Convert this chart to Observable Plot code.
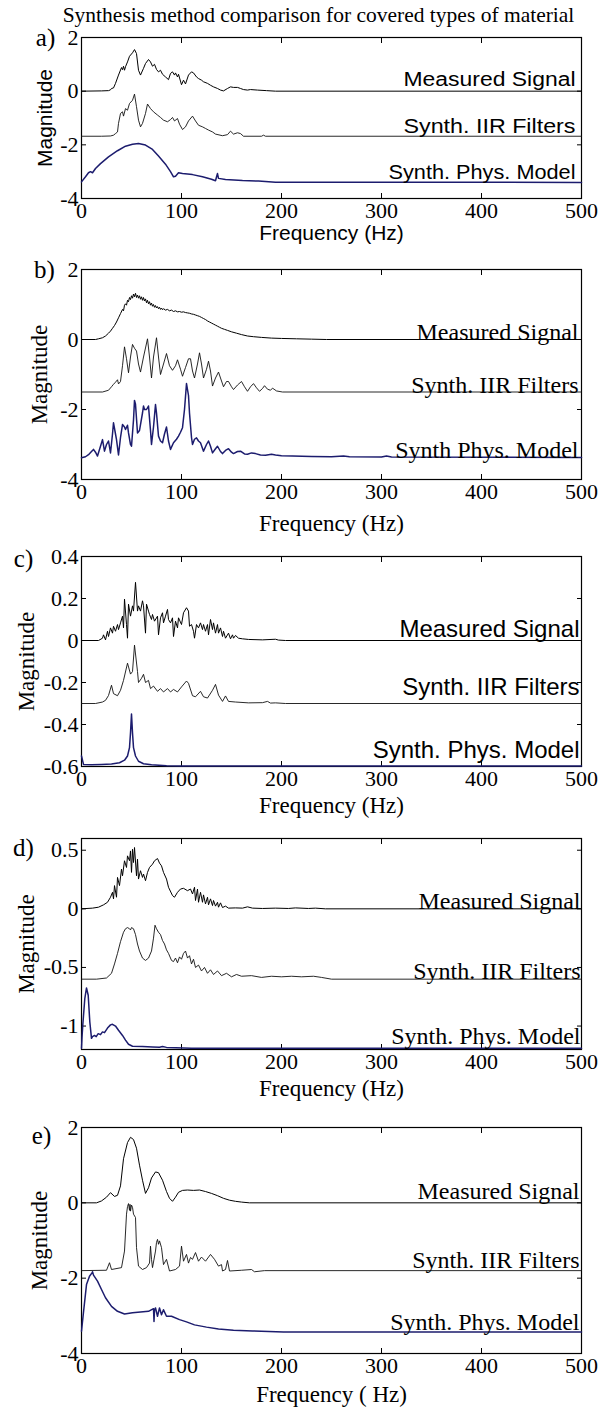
<!DOCTYPE html>
<html><head><meta charset="utf-8">
<script src="https://cdn.jsdelivr.net/npm/d3@7"></script>
<script src="https://cdn.jsdelivr.net/npm/@observablehq/plot@0.6"></script>
<style>
body{margin:0;background:#fff;}
#wrap{position:relative;width:611px;height:1407px;overflow:hidden;background:#fff;}
#wrap svg{position:absolute;left:0;}
</style></head><body><div id="wrap"></div>
<script>
const TITLE = "Synthesis method comparison for covered types of material";
const xTickLabels = [0, 100, 200, 300, 400, 500];
const xInnerTicks = [100, 200, 300, 400];
const labelsStd = ["Measured Signal", "Synth. IIR Filters", "Synth. Phys. Model"];
const labelsB = ["Measured Signal", "Synth. IIR Filters", "Synth Phys. Model"];

// ---- panel a ----
const aMeasured = [[0,0],[20,0.01],[27,0.02],[29,0.05],[30,0.1],[32,0.12],[34,0.29],[37,0.6],[40,0.88],[41,0.8],[42,0.93],[43,0.78],[44,0.91],[46,1.09],[48,1.3],[51,1.43],[53,1.55],[55,1.4],[57,0.78],[59,0.6],[62,0.85],[64,1.03],[67,1.18],[69,1.09],[71,0.93],[73,1.0],[75,0.81],[77,0.72],[79,0.78],[81,0.63],[84,0.53],[87,0.43],[89,0.66],[91,0.72],[93,0.6],[94,0.68],[96,0.53],[97,0.63],[100,0.24],[102,0.41],[104,0.27],[107,0.6],[110,0.72],[112,0.68],[115,0.53],[117,0.47],[120,0.41],[122,0.35],[126,0.29],[129,0.22],[132,0.16],[136,0.1],[139,0.04],[142,0.01],[146,0.1],[149,0.16],[152,0.14],[156,0.14],[159,0.1],[162,0.06],[166,0.04],[169,0.06],[176,0.04],[185,0.02],[194,0],[500,0]];
const aIIR = [[0,-1.68],[20,-1.68],[29,-1.67],[32,-1.64],[34,-1.58],[36,-1.52],[37,-1.2],[39,-0.83],[41,-0.77],[42,-0.93],[44,-0.65],[46,-0.71],[48,-0.46],[51,-0.34],[53,-0.11],[55,-0.58],[57,-1.08],[59,-1.33],[61,-1.2],[64,-0.83],[66,-0.48],[69,-0.65],[72,-0.77],[76,-0.89],[79,-0.98],[82,-1.08],[86,-1.14],[89,-1.06],[91,-0.98],[93,-1.11],[96,-1.02],[98,-1.23],[101,-1.43],[104,-1.33],[107,-1.11],[111,-0.93],[114,-1.11],[117,-1.27],[121,-1.33],[124,-1.39],[127,-1.45],[131,-1.52],[134,-1.6],[141,-1.66],[146,-1.62],[149,-1.49],[152,-1.6],[156,-1.55],[159,-1.58],[162,-1.68],[180,-1.68],[182,-1.64],[184,-1.68],[500,-1.68]];
const aPhys = [[0,-3.38],[4,-3.19],[7,-3.04],[9,-3.0],[11,-3.04],[14,-2.88],[19,-2.7],[27,-2.45],[36,-2.22],[44,-2.05],[51,-1.98],[57,-1.95],[64,-2.01],[71,-2.17],[77,-2.42],[84,-2.72],[89,-3.0],[92,-3.19],[94,-3.17],[97,-3.04],[101,-3.07],[111,-3.11],[121,-3.19],[130,-3.28],[134,-3.34],[135,-3.2],[136,-3.07],[137,-3.25],[144,-3.29],[161,-3.33],[177,-3.35],[194,-3.39],[500,-3.4]];

// ---- panel b ----
const bMeasured = [[0,0],[14,0],[17,0.02],[21,0.05],[24,0.1],[27,0.18],[29,0.24],[31,0.32],[33,0.4],[35,0.5],[37,0.62],[39,0.74],[41,0.86],[42,0.82],[43,0.98],[44,1.02],[45,0.98],[46,1.12],[47,1.08],[48,1.2],[49,1.14],[50,1.25],[51,1.18],[52,1.3],[53,1.22],[54,1.32],[55,1.2],[56,1.27],[57,1.18],[58,1.25],[59,1.15],[60,1.22],[61,1.12],[62,1.2],[63,1.1],[64,1.16],[65,1.05],[66,1.12],[67,1.02],[68,1.08],[69,0.98],[70,1.04],[71,0.95],[72,1.0],[73,0.92],[74,0.97],[75,0.9],[76,0.94],[77,0.88],[78,0.92],[79,0.86],[80,0.9],[81,0.85],[82,0.88],[84,0.84],[86,0.86],[88,0.82],[90,0.84],[92,0.8],[94,0.82],[96,0.79],[98,0.8],[100,0.78],[102,0.79],[104,0.77],[106,0.76],[108,0.75],[110,0.73],[112,0.72],[114,0.7],[116,0.68],[118,0.66],[120,0.63],[122,0.6],[124,0.57],[126,0.53],[128,0.5],[130,0.47],[132,0.44],[134,0.41],[136,0.38],[138,0.35],[140,0.32],[143,0.29],[146,0.26],[150,0.22],[155,0.18],[160,0.14],[166,0.1],[172,0.08],[180,0.06],[190,0.04],[200,0.03],[215,0.02],[230,0.01],[245,0],[500,0]];
const bIIR = [[0,-1.5],[21,-1.5],[27,-1.45],[30,-1.35],[32,-1.28],[34,-1.22],[36,-1.15],[37,-1.27],[39,-1.2],[41,-0.75],[43,-0.21],[45,-0.55],[47,-0.95],[49,-0.5],[51,-0.14],[53,-0.25],[55,-0.33],[57,-0.7],[59,-0.93],[62,-0.5],[66,0.02],[68,-0.5],[70,-1.1],[72,-0.5],[75,0.05],[77,-0.5],[79,-1.0],[82,-0.7],[85,-0.4],[88,-0.75],[91,-0.88],[94,-0.75],[96,-0.58],[99,-0.85],[101,-1.05],[104,-0.8],[107,-0.55],[109,-0.55],[111,-0.9],[113,-1.1],[116,-0.7],[118,-0.38],[120,-0.7],[122,-1.1],[125,-0.85],[127,-0.62],[129,-0.9],[131,-1.33],[134,-1.1],[137,-0.93],[139,-1.1],[142,-1.35],[145,-1.2],[147,-1.2],[150,-1.35],[152,-1.43],[156,-1.3],[160,-1.2],[163,-1.35],[166,-1.48],[169,-1.35],[172,-1.26],[175,-1.38],[178,-1.48],[181,-1.4],[183,-1.32],[186,-1.42],[189,-1.45],[191,-1.39],[195,-1.47],[201,-1.5],[500,-1.5]];
const bPhys = [[0,-3.38],[4,-3.35],[7,-3.29],[10,-3.2],[12,-3.14],[14,-3.22],[16,-3.33],[19,-3.05],[21,-2.86],[23,-3.19],[25,-3.0],[27,-2.9],[29,-3.24],[31,-2.7],[32,-2.38],[34,-2.7],[35,-2.86],[37,-3.3],[39,-2.8],[41,-2.43],[43,-2.5],[44,-2.57],[46,-2.45],[47,-2.67],[49,-3.0],[50,-3.05],[52,-2.3],[53,-1.74],[54,-1.85],[56,-2.67],[58,-2.6],[59,-2.43],[61,-2.1],[62,-1.9],[63,-2.0],[65,-2.0],[66,-1.95],[67,-1.9],[69,-2.6],[70,-3.0],[72,-2.5],[74,-1.86],[75,-2.1],[77,-2.76],[79,-2.9],[81,-2.95],[83,-2.7],[85,-2.5],[87,-2.9],[89,-3.14],[92,-2.95],[95,-2.85],[97,-2.76],[99,-2.65],[101,-2.52],[103,-2.0],[105,-1.26],[107,-1.6],[108,-2.1],[110,-2.8],[111,-3.0],[113,-2.85],[115,-2.81],[117,-2.9],[119,-2.95],[122,-3.19],[125,-3.0],[127,-2.9],[129,-3.05],[131,-3.24],[134,-3.12],[136,-3.05],[139,-3.2],[141,-3.26],[144,-3.17],[147,-3.12],[150,-3.22],[152,-3.26],[156,-3.2],[159,-3.19],[163,-3.27],[166,-3.28],[170,-3.24],[174,-3.26],[179,-3.3],[184,-3.31],[190,-3.28],[194,-3.3],[200,-3.32],[211,-3.33],[230,-3.34],[250,-3.35],[262,-3.33],[268,-3.35],[300,-3.36],[305,-3.33],[310,-3.36],[500,-3.37]];

// ---- panel c ----
const cMeasured = [[0,0],[17,0],[21,0.011],[22,0.027],[24,0.003],[26,0.044],[27,0.019],[29,0.06],[31,0.035],[32,0.068],[34,0.044],[36,0.076],[37,0.052],[39,0.084],[41,0.116],[42,0.06],[43,0.197],[45,0.076],[46,0.011],[47,0.173],[49,0.116],[51,0.165],[52,0.14],[54,0.277],[56,0.14],[57,0.165],[59,0.14],[61,0.189],[62,0.165],[64,0.035],[65,0.173],[67,0.14],[68,0.124],[70,0.1],[71,0.124],[73,0.092],[76,0.116],[77,0.027],[79,0.108],[81,0.132],[82,0.084],[84,0.116],[86,0.148],[87,0.1],[89,0.084],[91,0.108],[92,0.019],[94,0.092],[96,0.06],[97,0.108],[100,0.076],[102,0.132],[105,0.156],[107,0.14],[108,0.068],[110,0.076],[112,0.044],[113,0.011],[115,0.076],[117,0.06],[119,0.084],[121,0.052],[122,0.076],[124,0.044],[126,0.076],[127,0.027],[129,0.1],[131,0.052],[132,0.084],[134,0.035],[136,0.076],[137,0.035],[139,0.06],[141,0.019],[142,0.044],[144,0.011],[147,0.035],[149,0.008],[151,0.027],[152,0.011],[154,0.024],[157,0.011],[161,0.008],[167,0.005],[181,0.003],[194,0.006],[197,0.002],[204,0],[500,0]];
const cIIR = [[0,-0.3],[14,-0.3],[21,-0.293],[24,-0.285],[27,-0.262],[30,-0.213],[32,-0.253],[36,-0.263],[39,-0.237],[42,-0.19],[46,-0.108],[49,-0.16],[51,-0.148],[53,-0.022],[56,-0.148],[57,-0.2],[60,-0.18],[62,-0.161],[64,-0.2],[67,-0.19],[69,-0.229],[72,-0.217],[76,-0.242],[79,-0.229],[82,-0.245],[86,-0.229],[89,-0.245],[92,-0.233],[96,-0.245],[100,-0.221],[105,-0.193],[107,-0.204],[111,-0.263],[114,-0.268],[119,-0.242],[122,-0.268],[126,-0.274],[131,-0.237],[134,-0.209],[137,-0.26],[141,-0.29],[144,-0.264],[147,-0.29],[154,-0.293],[167,-0.297],[181,-0.296],[186,-0.29],[189,-0.298],[194,-0.297],[204,-0.3],[500,-0.3]];
const cPhys = [[0,-0.55],[1,-0.57],[2,-0.59],[10,-0.592],[20,-0.59],[30,-0.588],[38,-0.582],[43,-0.57],[46,-0.55],[48,-0.51],[49,-0.44],[50,-0.35],[51,-0.44],[52,-0.51],[54,-0.55],[57,-0.575],[62,-0.587],[70,-0.592],[85,-0.596],[100,-0.598],[500,-0.598]];

// ---- panel d ----
const dMeasured = [[0,0],[11,0.006],[17,0.014],[22,0.034],[26,0.056],[29,0.099],[31,0.141],[32,0.085],[33,0.198],[35,0.099],[36,0.268],[38,0.198],[40,0.339],[41,0.282],[43,0.41],[45,0.353],[46,0.452],[48,0.41],[49,0.494],[50,0.311],[51,0.508],[52,0.395],[53,0.523],[55,0.282],[56,0.424],[57,0.254],[59,0.325],[61,0.268],[62,0.297],[64,0.24],[66,0.311],[68,0.353],[71,0.381],[73,0.41],[76,0.429],[78,0.39],[80,0.367],[82,0.311],[85,0.254],[87,0.184],[91,0.113],[93,0.099],[96,0.141],[99,0.169],[102,0.175],[106,0.155],[109,0.169],[111,0.127],[113,0.184],[114,0.071],[116,0.169],[117,0.056],[119,0.141],[121,0.056],[122,0.119],[124,0.042],[126,0.099],[127,0.034],[129,0.085],[131,0.028],[132,0.071],[134,0.023],[136,0.056],[137,0.014],[139,0.051],[141,0.011],[144,0.023],[147,0.006],[154,0.008],[161,0.006],[166,0.017],[171,0.006],[181,0.003],[194,0.006],[207,0.003],[214,0.008],[227,0.003],[234,0.006],[244,0],[500,0]];
const dIIR = [[0,-0.6],[15,-0.6],[25,-0.59],[30,-0.55],[33,-0.47],[36,-0.38],[39,-0.28],[42,-0.2],[44,-0.17],[46,-0.16],[48,-0.17],[49,-0.18],[50,-0.16],[52,-0.17],[54,-0.22],[56,-0.3],[58,-0.36],[61,-0.42],[64,-0.44],[67,-0.42],[70,-0.36],[72,-0.25],[73.5,-0.14],[75,-0.17],[77,-0.2],[79,-0.22],[81,-0.27],[83,-0.3],[85,-0.35],[87,-0.38],[90,-0.44],[92,-0.45],[94,-0.42],[96,-0.46],[98,-0.41],[100,-0.43],[102,-0.38],[104,-0.36],[106,-0.42],[108,-0.4],[110,-0.47],[112,-0.43],[114,-0.5],[117,-0.48],[120,-0.53],[123,-0.5],[126,-0.55],[129,-0.52],[132,-0.56],[136,-0.53],[140,-0.57],[145,-0.55],[150,-0.58],[155,-0.56],[160,-0.575],[170,-0.57],[180,-0.585],[190,-0.575],[200,-0.58],[210,-0.575],[220,-0.58],[232,-0.575],[240,-0.585],[250,-0.6],[500,-0.6]];
const dPhys = [[0,-1.19],[0.5,-1.1],[1.3,-0.99],[3.3,-0.766],[5,-0.675],[6.7,-0.737],[8.3,-0.963],[10,-1.105],[11,-1.09],[13,-1.08],[14.7,-1.09],[16.7,-1.065],[19,-1.073],[21,-1.05],[23,-1.056],[26,-1.017],[29,-0.99],[31,-0.985],[34,-1.0],[37,-1.036],[41,-1.08],[44,-1.12],[47,-1.155],[51,-1.172],[61,-1.175],[71,-1.178],[78,-1.18],[81,-1.175],[85,-1.182],[94,-1.185],[110,-1.19],[500,-1.19]];

// ---- panel e ----
const eMeasured = [[0,0],[15,0],[20,0.05],[25,0.15],[29,0.27],[33,0.17],[36,0.2],[39,0.45],[42,1.17],[46,1.6],[49,1.74],[52,1.68],[55,1.45],[58,1.0],[61,0.6],[64,0.25],[67,0.4],[70,0.66],[74,0.82],[77,0.8],[81,0.6],[85,0.3],[88,0.12],[91,0.04],[94,0.15],[97,0.28],[101,0.33],[106,0.34],[112,0.33],[118,0.34],[124,0.3],[130,0.25],[136,0.19],[142,0.12],[148,0.07],[154,0.04],[160,0.02],[168,0],[500,0]];
const eIIR = [[0,-1.8],[25,-1.79],[28,-1.59],[30,-1.77],[40,-1.72],[43,-1.28],[45,-0.3],[46,-0.1],[47,-0.02],[48,-0.2],[48.5,-0.04],[49,-0.22],[50,-0.06],[51,-0.12],[52,-0.3],[54,-0.39],[55,-1.19],[57,-1.68],[61,-1.77],[65,-1.72],[68,-1.6],[69,-1.15],[70,-1.5],[71,-1.72],[74,-1.28],[75,-1.05],[76,-0.97],[77,-1.1],[78,-1.01],[80,-1.19],[82,-1.64],[85,-1.5],[88,-1.81],[94,-1.77],[98,-1.68],[100,-1.15],[102,-1.55],[105,-1.37],[107,-1.6],[109,-1.45],[111,-1.5],[114,-1.32],[117,-1.55],[120,-1.44],[124,-1.55],[129,-1.37],[133,-1.5],[137,-1.68],[140,-1.64],[141,-1.81],[144,-1.77],[146,-1.53],[148,-1.81],[160,-1.79],[170,-1.77],[173,-1.83],[183,-1.8],[500,-1.8]];
const ePhys = [[0,-3.41],[2,-2.9],[5,-2.17],[8,-1.95],[10.5,-1.86],[11,-1.83],[12,-1.92],[16,-2.08],[20,-2.3],[24,-2.52],[30,-2.75],[36,-2.88],[43,-2.95],[51,-2.92],[59,-2.9],[67,-2.88],[72,-2.81],[72.5,-3.15],[73,-2.85],[74,-2.79],[76,-3.01],[78,-2.79],[80,-2.97],[82,-2.84],[85,-3.01],[90,-3.01],[98,-3.1],[105,-3.16],[113,-3.24],[125,-3.3],[137,-3.35],[152,-3.38],[171,-3.4],[202,-3.43],[500,-3.43]];

const SERIF = "Liberation Serif, Times New Roman, serif";
const SANS = "Liberation Sans, Arial, sans-serif";
const NAVY = "#1c1c6e";

const panels = [
  {letter:"a)", top:0, height:240, mt:37, mb:42, yd:[-4,2], yTicks:[2,0,-2,-4], yInner:[0,-2],
   series:[aMeasured,aIIR,aPhys], labels:labelsStd, labelFont:SANS, labelSize:20, labelDy:[-5,-3,-3], labelDx:-6,
   labelLen:[172,172,187], axisFont:SANS, axisSize:21, xLabel:"Frequency (Hz)", freqDy:35, magDx:-36, letterDx:-36, letterDy:0, title:true},
  {letter:"b)", top:240, height:285, mt:29, mb:46, yd:[-4,2], yTicks:[2,0,-2,-4], yInner:[0,-2],
   series:[bMeasured,bIIR,bPhys], labels:labelsB, labelFont:SERIF, labelSize:24, labelDy:[0,1,1], labelDx:-3,
   axisFont:SERIF, axisSize:23, xLabel:"Frequency (Hz)", freqDy:44, magDx:-42, letterDx:-37, letterDy:0},
  {letter:"c)", top:525, height:285, mt:31, mb:44, yd:[-0.6,0.4], yTicks:[0.4,0.2,0,-0.2,-0.4,-0.6], yInner:[0.2,0,-0.2,-0.4],
   series:[cMeasured,cIIR,cPhys], labels:labelsStd, labelFont:SANS, labelSize:24, labelDy:[-4,-9,-8], labelDx:-2,
   axisFont:SERIF, axisSize:23, xLabel:"Frequency (Hz)", freqDy:39, magDx:-55, letterDx:-58, letterDy:2},
  {letter:"d)", top:810, height:285, mt:28, mb:46, yd:[-1.2,0.6], yTicks:[0.5,0,-0.5,-1], yInner:[0.5,0,-0.5,-1],
   series:[dMeasured,dIIR,dPhys], labels:labelsStd, labelFont:SERIF, labelSize:24, labelDy:[0,0,-4], labelDx:-1,
   axisFont:SERIF, axisSize:23, xLabel:"Frequency (Hz)", freqDy:39, magDx:-55, letterDx:-58, letterDy:9},
  {letter:"e)", top:1095, height:312, mt:32, mb:54, yd:[-4,2], yTicks:[2,0,-2,-4], yInner:[0,-2],
   series:[eMeasured,eIIR,ePhys], labels:labelsStd, labelFont:SERIF, labelSize:24, labelDy:[-4,-3,-2], labelDx:-2,
   axisFont:SERIF, axisSize:23, xLabel:"Frequency ( Hz)", freqDy:41, magDx:-42, letterDx:-40, letterDy:8}
];

const styles = [
  {stroke:"#000", strokeWidth:1},
  {stroke:"#111", strokeWidth:0.9},
  {stroke:NAVY, strokeWidth:1.5}
];

const wrap = document.getElementById("wrap");

for (const p of panels) {
  const rows = p.series.map(s => s.map(([f, v]) => ({f, v})));
  const marks = [
    Plot.frame({stroke:"#000", strokeWidth:1.2}),
    Plot.axisX({anchor:"bottom", ticks:xInnerTicks, tickSize:-5, fill:"none", label:null}),
    Plot.axisX({anchor:"top", ticks:xInnerTicks, tickSize:-5, fill:"none", label:null}),
    Plot.axisY({anchor:"left", ticks:p.yInner, tickSize:-5, fill:"none", label:null}),
    Plot.axisY({anchor:"right", ticks:p.yInner, tickSize:-5, fill:"none", label:null}),
    Plot.axisX({anchor:"bottom", ticks:xTickLabels, tickSize:0, tickPadding:4, tickFormat:d => String(d), label:null, fontSize:22, fontFamily:SERIF, fill:"#000"}),
    Plot.axisY({anchor:"left", ticks:p.yTicks, tickSize:0, tickPadding:3, tickFormat:d => String(d), label:null, fontSize:22, fontFamily:SERIF, fill:"#000"}),
    ...rows.map((r, i) => Plot.line(r, {x:"f", y:"v", ...styles[i]})),
    ...rows.map((r, i) => Plot.text([p.labels[i]], {
      x: 500, y: r[r.length - 1].v, text: d => d, textAnchor:"end", lineAnchor:"bottom",
      dx: p.labelDx, dy: p.labelDy[i], fontSize: p.labelSize, fontFamily: p.labelFont, fill:"#000"
    })),
    Plot.text([p.xLabel], {frameAnchor:"bottom", dy:p.freqDy, lineAnchor:"middle", fontSize:p.axisSize, fontFamily:p.axisFont, fill:"#000"}),
    Plot.text(["Magnitude"], {frameAnchor:"left", dx:p.magDx, rotate:-90, lineAnchor:"middle", textAnchor:"middle", fontSize:p.axisSize, fontFamily:p.axisFont, fill:"#000"}),
    Plot.text([p.letter], {frameAnchor:"top-left", dx:p.letterDx, dy:p.letterDy, lineAnchor:"middle", textAnchor:"middle", fontSize:25, fontFamily:SERIF, fill:"#000"})
  ];
  if (p.title) marks.push(Plot.text([TITLE], {frameAnchor:"top", dx:-13, dy:-16, lineAnchor:"bottom", fontSize:21.5, fontFamily:SERIF, fill:"#000"}));
  const svg = Plot.plot({
    width:611, height:p.height, marginTop:p.mt, marginBottom:p.mb, marginLeft:81, marginRight:30,
    x:{domain:[0,500]}, y:{domain:p.yd},
    style:{background:"transparent", overflow:"visible", fontFamily:SERIF},
    marks
  });
  svg.style.top = p.top + "px";
  if (p.labelLen) {
    d3.select(svg).selectAll("text").each(function() {
      const k = p.labels.indexOf(this.textContent);
      if (k >= 0) { this.setAttribute("textLength", p.labelLen[k]); this.setAttribute("lengthAdjust", "spacingAndGlyphs"); }
    });
  }
  wrap.appendChild(svg);
}
</script></body></html>
